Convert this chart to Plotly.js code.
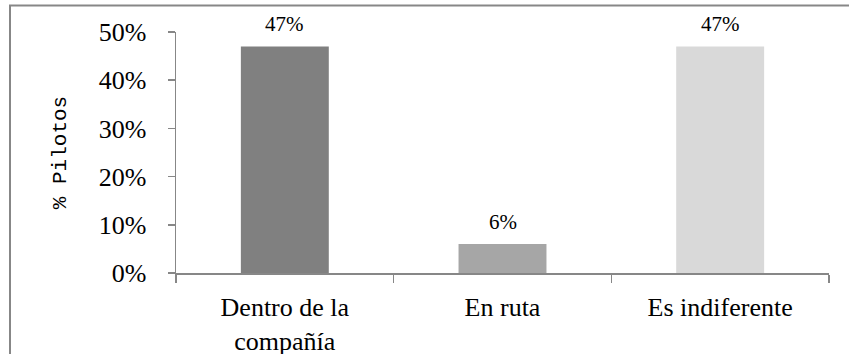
<!DOCTYPE html>
<html>
<head>
<meta charset="utf-8">
<script src="https://cdn.plot.ly/plotly-3.0.1.min.js"></script>
<style>
  html, body { margin: 0; padding: 0; background: #fff; }
  #chart { width: 849px; height: 354px; }
</style>
</head>
<body>
<div id="chart"></div>
<script>
// Preferencia de los pilotos (% de respuestas)
const categories = ["Dentro de la<br>compañía", "En ruta", "Es indiferente"];
const values = [47, 6, 47];
const barColors = ["#808080", "#a6a6a6", "#d9d9d9"];
const yTickValues = [0, 10, 20, 30, 40, 50];
const yTickLabels = yTickValues.map(v => v + "%");

const serif = "'Liberation Serif', 'Times New Roman', serif";
const axisGrey = "#878787";

const trace = {
  type: "bar",
  x: categories,
  y: values,
  marker: { color: barColors, line: { width: 0 } },
  hoverinfo: "x+y"
};

// Value labels above each bar
const labels = categories.map((c, i) => ({
  x: c,
  y: values[i],
  xref: "x",
  yref: "y",
  text: values[i] + "%",
  showarrow: false,
  yanchor: "bottom",
  yshift: 8,
  font: { family: serif, size: 21, color: "#000" }
}));

const layout = {
  width: 849,
  height: 354,
  margin: { l: 176, r: 20, t: 32, b: 81 },
  paper_bgcolor: "#fff",
  plot_bgcolor: "#fff",
  showlegend: false,
  bargap: 0.596,
  font: { family: serif, color: "#000" },
  xaxis: {
    type: "category",
    range: [-0.5, 2.5],
    showline: true,
    linecolor: axisGrey,
    linewidth: 1.5,
    ticks: "outside",
    tickson: "boundaries",
    ticklen: 8,
    tickcolor: axisGrey,
    tickwidth: 1.5,
    showgrid: false,
    zeroline: false,
    ticklabelstandoff: 10,
    tickfont: { family: serif, size: 26, color: "#000" }
  },
  yaxis: {
    range: [0, 50],
    tickvals: yTickValues,
    ticktext: yTickLabels,
    showline: true,
    linecolor: axisGrey,
    linewidth: 1.5,
    ticks: "outside",
    ticklen: 7,
    tickcolor: axisGrey,
    tickwidth: 1.5,
    showgrid: false,
    zeroline: false,
    ticklabelstandoff: 16,
    tickfont: { family: serif, size: 26, color: "#000" },
    title: {
      text: "% Pilotos",
      standoff: 26,
      font: { family: "'Liberation Mono', 'Courier New', monospace", size: 21, color: "#000" }
    }
  },
  annotations: labels,
  shapes: [
    {
      // chart-area frame
      type: "rect",
      xref: "paper",
      yref: "paper",
      x0: -0.2542,
      x1: 1.06,
      y0: -0.4,
      y1: 1.11,
      line: { color: "#878787", width: 2 },
      fillcolor: "rgba(0,0,0,0)",
      layer: "below"
    }
  ]
};

Plotly.newPlot("chart", [trace], layout, { displayModeBar: false, staticPlot: true });
</script>
</body>
</html>
